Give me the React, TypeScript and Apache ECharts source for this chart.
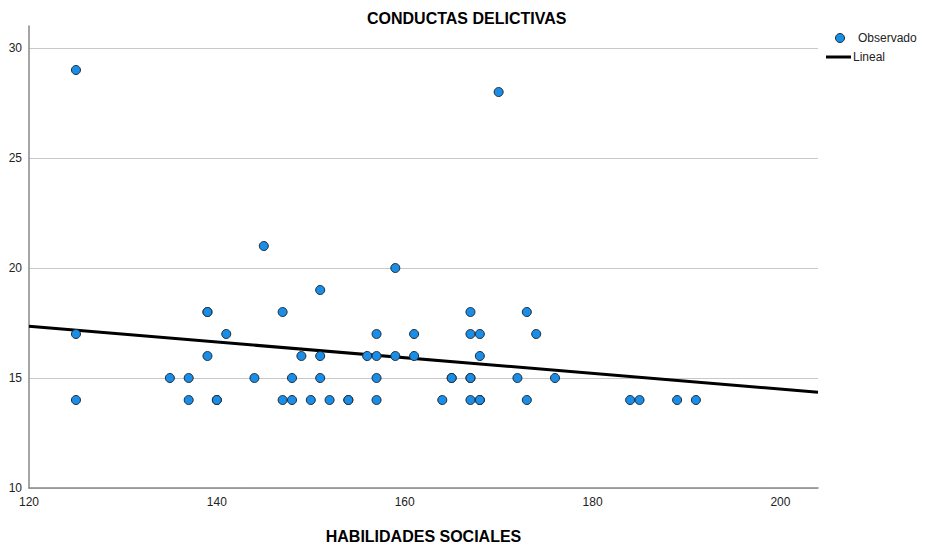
import React, { useEffect, useRef } from "react";
import * as echarts from "echarts";

const habilidades = [
  125, 125, 125,
  135, 137, 144, 148, 151, 157, 165, 165, 167, 167, 172, 176,
  137, 140, 140, 147, 148, 150, 152, 154, 154, 157, 164, 167, 168, 168, 173, 184, 185, 189, 191,
  139, 149, 151, 156, 157, 159, 161, 168,
  141, 157, 161, 167, 168, 174,
  139, 139, 147, 167, 173,
  151, 159, 145, 170,
];
const conductas = [
  29, 17, 14,
  15, 15, 15, 15, 15, 15, 15, 15, 15, 15, 15, 15,
  14, 14, 14, 14, 14, 14, 14, 14, 14, 14, 14, 14, 14, 14, 14, 14, 14, 14, 14,
  16, 16, 16, 16, 16, 16, 16, 16,
  17, 17, 17, 17, 17, 17,
  18, 18, 18, 18, 18,
  19, 20, 21, 28,
];
const lineX = [120, 204];
const lineY = [17.35, 14.35];
const yTicks = [10, 15, 20, 25, 30];
const xTicks = [120, 140, 160, 180, 200];
const legendNames = ["Observado", "Lineal"];

const FONT = "'Liberation Sans', Arial, sans-serif";
const BLUE = "#1a8ee6";

export default function App() {
  const ref = useRef<HTMLDivElement>(null);
  useEffect(() => {
    if (!ref.current) return;
    const chart = echarts.init(ref.current, null, { renderer: "svg" });
    const points = habilidades.map((x, i) => [x, conductas[i]]);
    const line = lineX.map((x, i) => [x, lineY[i]]);
    chart.setOption({
      animation: false,
      backgroundColor: "#ffffff",
      textStyle: { fontFamily: FONT },
      title: {
        text: "CONDUCTAS DELICTIVAS",
        left: 362,
        top: 5,
        textStyle: { fontFamily: FONT, fontSize: 16, fontWeight: "bold", color: "#000" },
      },
      graphic: [
        {
          type: "circle",
          shape: { cx: 840, cy: 38, r: 4.5 },
          style: { fill: BLUE, stroke: "#1f2d3a", lineWidth: 1 },
        },
        {
          type: "text",
          x: 858,
          y: 38,
          style: {
            text: legendNames[0],
            font: "12px " + FONT,
            fill: "#222",
            verticalAlign: "middle",
          },
        },
        {
          type: "line",
          shape: { x1: 826, y1: 57, x2: 851, y2: 57 },
          style: { stroke: "#000", lineWidth: 3 },
        },
        {
          type: "text",
          x: 853,
          y: 57,
          style: {
            text: legendNames[1],
            font: "12px " + FONT,
            fill: "#222",
            verticalAlign: "middle",
          },
        },
      ],
      grid: { left: 29, right: 112, top: 26, bottom: 58, containLabel: false, outerBoundsMode: "none" },
      xAxis: {
        type: "value",
        min: 120,
        max: 204,
        interval: 20,
        name: "HABILIDADES SOCIALES",
        nameLocation: "middle",
        nameGap: 40,
        nameTextStyle: { fontFamily: FONT, fontSize: 16, fontWeight: "bold", color: "#000" },
        axisLine: { show: true, lineStyle: { color: "#888", width: 1.5 } },
        axisTick: { show: false },
        splitLine: { show: false },
        axisLabel: {
          fontFamily: FONT,
          fontSize: 12,
          color: "#222",
          margin: 8,
          customValues: xTicks,
        },
      },
      yAxis: {
        type: "value",
        min: 10,
        max: 31,
        interval: 5,
        axisLine: { show: true, lineStyle: { color: "#888", width: 1.5 } },
        axisTick: { show: false },
        splitLine: { show: true, showMaxLine: false, lineStyle: { color: "#c8c8c8", width: 1 } },
        axisLabel: {
          fontFamily: FONT,
          fontSize: 12,
          color: "#222",
          margin: 7,
          customValues: yTicks,
        },
      },
      series: [
        {
          name: "Observado",
          type: "scatter",
          data: points,
          symbol: "circle",
          symbolSize: 9,
          itemStyle: { color: BLUE, borderColor: "#1f2d3a", borderWidth: 1, opacity: 1 },
          z: 3,
        },
        {
          name: "Lineal",
          type: "line",
          data: line,
          symbol: "none",
          lineStyle: { color: "#000", width: 3 },
          z: 2,
        },
      ],
    });
    return () => chart.dispose();
  }, []);
  return (
    <div
      ref={ref}
      style={{ position: "absolute", left: 0, top: 0, width: 930, height: 546 }}
    />
  );
}
